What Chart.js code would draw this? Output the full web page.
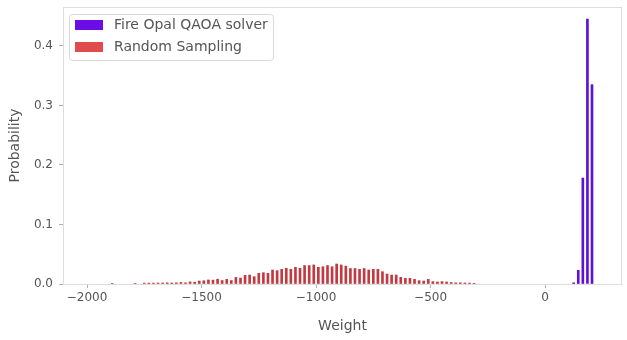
<!DOCTYPE html>
<html>
<head>
<meta charset="utf-8">
<script src="https://cdn.jsdelivr.net/npm/chart.js@4.4.1/dist/chart.umd.min.js"></script>
<style>
html,body{margin:0;padding:0;background:#fff;}
#wrap{width:627px;height:340px;}
</style>
</head>
<body>
<div id="wrap"><canvas id="c" width="627" height="340"></canvas></div>
<script>
// ---- data ----
const seriesNames = ["Fire Opal QAOA solver", "Random Sampling"];
const qaoaWeights = [125, 145, 165, 185, 205];
const qaoaProbs   = [0.002, 0.023, 0.178, 0.445, 0.335];
const randomWeights = [
  -1890, -1790,
  -1750, -1730, -1710, -1690, -1670, -1650, -1630, -1610, -1590, -1570,
  -1550, -1530, -1510, -1490, -1470, -1450, -1430, -1410, -1390, -1370,
  -1350, -1330, -1310, -1290, -1270, -1250, -1230, -1210, -1190, -1170,
  -1150, -1130, -1110, -1090, -1070, -1050, -1030, -1010, -990, -970,
  -950, -930, -910, -890, -870, -850, -830, -810, -790, -770,
  -750, -730, -710, -690, -670, -650, -630, -610, -590, -570,
  -550, -530, -510, -490, -470, -450, -430, -410, -390, -370,
  -350, -330, -310
];
const randomProbs = [
  0.001, 0.001,
  0.0015, 0.0015, 0.0015, 0.0017, 0.0017, 0.002, 0.0017, 0.002, 0.0025, 0.002,
  0.0035, 0.003, 0.005, 0.0055, 0.0068, 0.0065, 0.008, 0.0058, 0.0078, 0.0058,
  0.011, 0.010, 0.0145, 0.0151, 0.0123, 0.018, 0.019, 0.018, 0.0235, 0.0224,
  0.0247, 0.0263, 0.0247, 0.028, 0.0263, 0.031, 0.031, 0.032, 0.028, 0.029,
  0.031, 0.029, 0.0336, 0.032, 0.030, 0.026, 0.026, 0.0247, 0.026, 0.0235,
  0.0247, 0.0247, 0.0207, 0.0168, 0.0151, 0.0151, 0.0112, 0.0095, 0.0095, 0.0078,
  0.0056, 0.005, 0.0078, 0.004, 0.0034, 0.004, 0.0034, 0.0025, 0.002, 0.002,
  0.0017, 0.0015, 0.0012
];
const xTickValues = [-2000, -1500, -1000, -500, 0];
const yTickValues = [0, 0.1, 0.2, 0.3, 0.4];
const xLabel = "Weight";
const yLabel = "Probability";

// ---- styling ----
const FONT = "'DejaVu Sans', 'Liberation Sans', sans-serif";
const TEXT = "#555555";
const SPINE = "#dddddd";
const TICK = "#b0b0b0";
const legendColors = ["#6a0de6", "#e04b4b"];
const barColors = ["#5e12d2", "#c23a40"];

const toPts = (xs, ys) => xs.map((x, i) => ({x: x, y: ys[i]}));

const framePlugin = {
  id: 'frame',
  afterDraw(chart) {
    const ctx = chart.ctx, a = chart.chartArea;
    ctx.save();
    ctx.strokeStyle = SPINE;
    ctx.lineWidth = 1;
    ctx.strokeRect(Math.round(a.left) + 0.5, Math.round(a.top) + 0.5,
                   Math.round(a.right - a.left) - 1, Math.round(a.bottom - a.top));
    // legend inside the plot (upper left)
    const lx = a.left + 6.5, ly = a.top + 7.5, lw = 204, lh = 46;
    ctx.beginPath();
    ctx.roundRect(lx, ly, lw, lh, 3);
    ctx.fillStyle = "rgba(255,255,255,0.85)";
    ctx.fill();
    ctx.strokeStyle = "#d8d8d8";
    ctx.stroke();
    ctx.font = "14px " + FONT;
    ctx.textBaseline = "middle";
    ctx.textAlign = "left";
    chart.data.datasets.forEach((ds, i) => {
      const rowY = ly + 10.5 + i * 22;
      ctx.fillStyle = ds.legendColor;
      ctx.fillRect(lx + 5.5, rowY - 5, 28, 10);
      ctx.fillStyle = TEXT;
      ctx.fillText(ds.label, lx + 44.5, rowY);
    });
    ctx.restore();
  }
};

new Chart(document.getElementById('c'), {
  type: 'bar',
  data: {
    datasets: [
      {
        label: seriesNames[0],
        data: toPts(qaoaWeights, qaoaProbs),
        backgroundColor: barColors[0],
        legendColor: legendColors[0],
        barThickness: 2,
        grouped: false
      },
      {
        label: seriesNames[1],
        data: toPts(randomWeights, randomProbs),
        backgroundColor: barColors[1],
        legendColor: legendColors[1],
        barThickness: 2,
        grouped: false
      }
    ]
  },
  options: {
    responsive: false,
    animation: false,
    devicePixelRatio: 1,
    layout: {padding: {top: 7, right: 5, left: 0, bottom: 0}},
    plugins: {legend: {display: false}, tooltip: {enabled: false}},
    scales: {
      x: {
        type: 'linear',
        min: -2105,
        max: 336,
        offset: false,
        afterBuildTicks: s => { s.ticks = xTickValues.map(v => ({value: v})); },
        afterFit: s => { s.height = 56; s.paddingLeft = 0; s.paddingRight = 0; },
        grid: {display: true, offset: false, drawOnChartArea: false, drawTicks: true, tickLength: 4, color: TICK},
        border: {display: true, color: SPINE},
        ticks: {
          color: TEXT, padding: 3, maxRotation: 0,
          font: {family: FONT, size: 12},
          callback: v => v < 0 ? '\u2212' + Math.abs(v) : String(v)
        },
        title: {display: true, text: xLabel, color: TEXT, font: {family: FONT, size: 14}, padding: {top: 4, bottom: 5}}
      },
      y: {
        type: 'linear',
        min: 0,
        max: 0.4655,
        afterBuildTicks: s => { s.ticks = yTickValues.map(v => ({value: v})); },
        afterFit: s => { s.width = 63; s.paddingTop = 0; s.paddingBottom = 0; },
        grid: {display: true, offset: false, drawOnChartArea: false, drawTicks: true, tickLength: 4, color: TICK},
        border: {display: true, color: SPINE},
        ticks: {
          color: TEXT, padding: 6,
          font: {family: FONT, size: 12},
          callback: v => Number(v).toFixed(1)
        },
        title: {display: true, text: yLabel, color: TEXT, font: {family: FONT, size: 14}, padding: {top: 7, bottom: 4}}
      }
    }
  },
  plugins: [framePlugin]
});
</script>
</body>
</html>
